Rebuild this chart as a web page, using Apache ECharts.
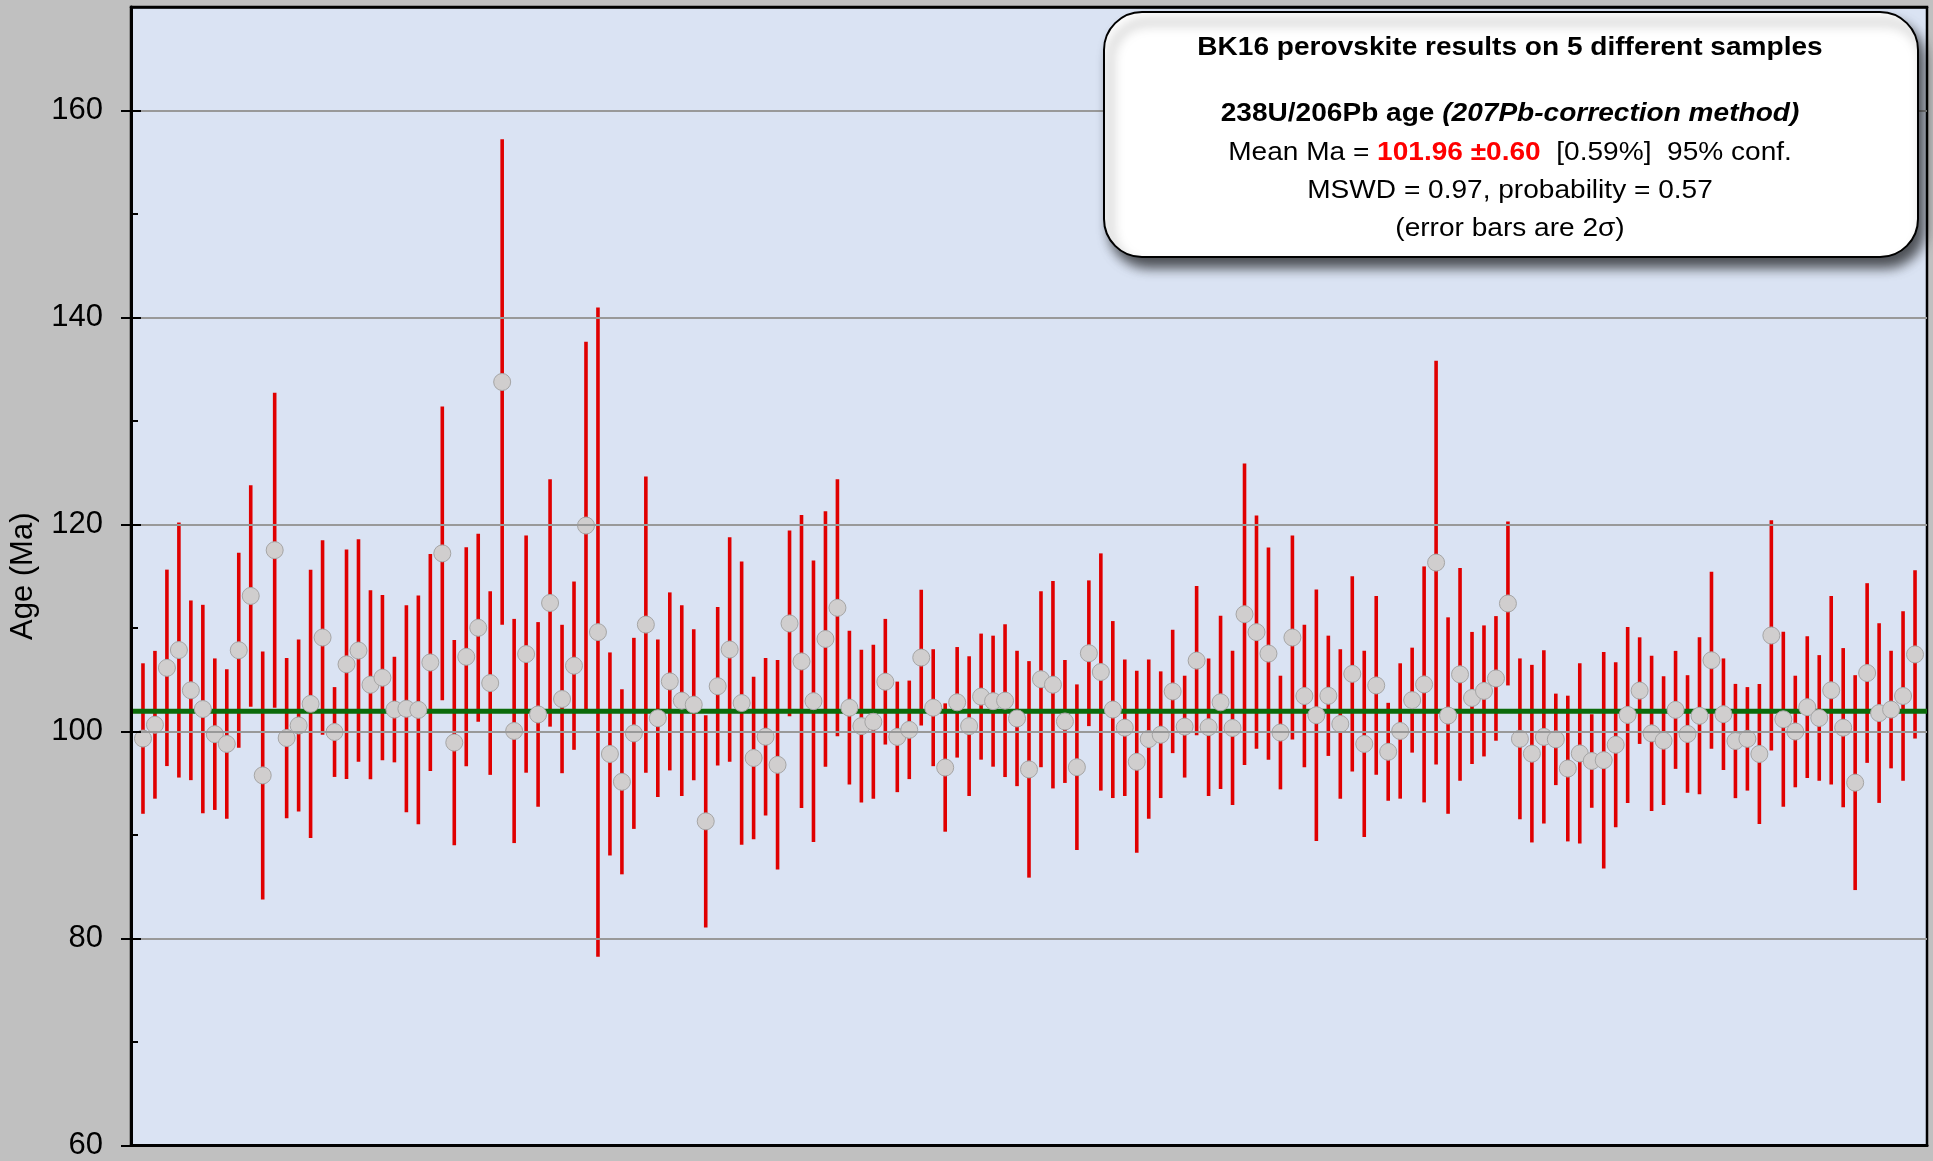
<!DOCTYPE html>
<html>
<head>
<meta charset="utf-8">
<script src="https://cdn.jsdelivr.net/npm/echarts@6/dist/echarts.min.js"></script>
<style>
html,body{margin:0;padding:0;background:#c0c0c0;}
#chart{width:1933px;height:1161px;}
</style>
</head>
<body>
<div id="chart"></div>
<script>
// ---- data ----
const ages = [
 99.32,100.65,106.15,107.87,103.98,102.17,99.74,98.80,107.85,113.10,
 95.76,117.52,99.37,100.58,102.67,109.08,99.95,106.49,107.82,104.52,
 105.20,102.12,102.20,102.09,106.67,117.21,98.93,107.22,110.02,104.68,
 133.77,100.05,107.48,101.65,112.42,103.14,106.36,119.90,109.60,97.83,
 95.14,99.82,110.33,101.28,104.84,102.98,102.59,91.32,104.37,107.92,
 102.75,97.44,99.50,96.78,110.44,106.77,102.93,108.94,111.95,102.30,
 100.52,100.94,104.81,99.48,100.16,107.14,102.30,96.52,102.82,100.52,
 103.37,102.93,102.98,101.26,96.34,105.05,104.52,100.97,96.55,107.56,
 105.75,102.12,100.37,97.07,99.27,99.69,103.87,100.47,106.85,100.42,
 102.82,100.34,111.33,109.60,107.53,99.90,109.08,103.43,101.57,103.45,
 100.73,105.57,98.80,104.45,98.04,100.05,103.03,104.55,116.32,101.54,
 105.52,103.24,103.92,105.13,112.37,99.29,97.86,99.48,99.24,96.42,
 97.88,97.15,97.23,98.72,101.60,103.95,99.82,99.11,102.09,99.76,
 101.52,106.88,101.67,99.08,99.29,97.83,109.28,101.18,100.00,102.35,
 101.31,103.98,100.37,95.06,105.65,101.78,102.12,103.43,107.45
];
const errors2s = [
 7.27,7.14,9.49,12.32,8.68,10.07,7.32,7.22,9.42,10.70,
 11.98,15.22,7.74,8.32,12.97,9.39,4.34,11.09,10.75,9.13,
 7.98,5.10,9.99,11.04,10.49,14.18,9.91,10.57,9.08,8.87,
 23.46,10.83,11.46,8.92,11.95,7.17,8.13,17.76,31.36,9.81,
 8.94,9.23,14.31,7.61,8.60,9.21,7.30,10.25,7.66,10.85,
 13.68,7.85,7.61,10.12,8.97,14.15,13.60,12.35,12.42,7.43,
 7.38,7.43,6.07,5.34,4.76,6.56,5.65,6.20,5.34,6.75,
 6.09,6.33,7.38,6.54,10.46,8.50,10.02,5.94,8.00,7.04,
 11.46,8.55,6.59,8.79,7.69,6.12,5.96,4.92,7.22,6.64,
 8.37,7.45,14.57,11.27,10.25,5.49,9.86,6.88,12.14,5.81,
 7.22,9.44,9.00,8.63,4.73,6.54,5.07,11.40,19.51,9.49,
 10.28,6.38,6.33,6.02,7.92,7.77,8.58,8.37,4.42,7.04,
 8.71,4.52,10.46,7.98,8.50,5.15,7.51,6.22,5.70,5.68,
 7.58,8.55,5.39,5.52,5.00,6.77,11.12,8.45,5.39,6.85,
 6.07,9.10,7.69,10.38,8.68,8.68,5.68,8.19,8.13
];
const meanAge = 101.96;
const yMin = 60, yMax = 170, yStep = 20;
const gridValues = [80, 100, 120, 140, 160];
const titleLines = {
  l1: 'BK16 perovskite results on 5 different samples',
  l3a: '238U/206Pb age ',
  l3b: '(207Pb-correction method)',
  l4a: 'Mean Ma = ',
  l4b: '101.96 ±0.60',
  l4c: '  [0.59%]  95% conf.',
  l5: 'MSWD = 0.97, probability = 0.57',
  l6: '(error bars are 2σ)'
};

// ---- chart ----
const FONT = '"Liberation Sans", Arial, Helvetica, sans-serif';
const points = ages.map((a, i) => [i + 1, a]);
const bars = ages.map((a, i) => [i + 1, a, errors2s[i]]);

const chart = echarts.init(document.getElementById('chart'), null, {renderer: 'canvas'});
const TX = 1510, FS = 25, SX = 1.22 * 23 / 25;
const txt = (y, text, rich) => ({
  type: 'text', x: TX, y: y, scaleX: SX, z: 101,
  style: {text: text, rich: rich, align: 'center', verticalAlign: 'middle',
          textAlign: 'center', textVerticalAlign: 'middle',
          fontFamily: FONT, fontSize: FS, fill: '#000'}
});
const R = {
  n: {fontFamily: FONT, fontSize: FS, fill: '#000'},
  b: {fontFamily: FONT, fontSize: FS, fontWeight: 'bold', fill: '#000'},
  bi: {fontFamily: FONT, fontSize: FS, fontWeight: 'bold', fontStyle: 'italic', fill: '#000'},
  r: {fontFamily: FONT, fontSize: FS, fontWeight: 'bold', fill: '#ff0000'}
};

chart.setOption({
  animation: false,
  backgroundColor: '#c0c0c0',
  grid: {left: 130, right: 6, top: 7, bottom: 14, show: true,
         backgroundColor: '#dae3f3', borderColor: '#000', borderWidth: 2.5},
  xAxis: [
    {type: 'value', min: 0, max: 150, position: 'bottom', z: 10,
     axisLine: {show: true, onZero: false, lineStyle: {color: '#000', width: 3}},
     axisTick: {show: false}, axisLabel: {show: false}, splitLine: {show: false}},
    {type: 'value', min: 0, max: 150, position: 'top', z: 10,
     axisLine: {show: true, onZero: false, lineStyle: {color: '#000', width: 2.5}},
     axisTick: {show: false}, axisLabel: {show: false}, splitLine: {show: false}}
  ],
  yAxis: [
    {type: 'value', min: yMin, max: yMax, interval: yStep, position: 'left', z: 11,
     axisLine: {show: true, lineStyle: {color: '#000', width: 3}},
     axisTick: {show: true, inside: false, length: 10, lineStyle: {color: '#000', width: 2}},
     axisLabel: {show: true, showMaxLabel: false, margin: 28, fontSize: 31,
                 fontFamily: FONT, color: '#000'},
     splitLine: {show: false},
     name: 'Age (Ma)', nameLocation: 'middle', nameGap: 92,
     nameTextStyle: {fontSize: 31, fontFamily: FONT, color: '#000'}},
    {type: 'value', min: yMin, max: yMax, interval: 10, position: 'left', z: 11,
     axisLine: {show: false}, axisLabel: {show: false}, splitLine: {show: false},
     axisTick: {show: true, inside: true, length: 7, lineStyle: {color: '#000', width: 2}}},
    {type: 'value', min: yMin, max: yMax, interval: yStep, position: 'left', z: 11,
     axisLine: {show: false}, axisLabel: {show: false}, splitLine: {show: false},
     axisTick: {show: true, inside: true, length: 10, lineStyle: {color: '#000', width: 2}}}
  ],
  series: [
    {
      type: 'line', name: 'grid', z: 0, silent: true, data: [],
      markLine: {silent: true, symbol: 'none', label: {show: false},
                 lineStyle: {color: '#999999', width: 2, type: 'solid'},
                 data: gridValues.map(v => ({yAxis: v}))}
    },
    {
      type: 'custom', name: 'errors', z: 2, silent: true,
      data: bars,
      renderItem: function (params, api) {
        const x = api.value(0), y = api.value(1), e = api.value(2);
        const top = api.coord([x, y + e]);
        const bot = api.coord([x, y - e]);
        return {type: 'line',
                shape: {x1: top[0], y1: top[1], x2: bot[0], y2: bot[1]},
                style: {stroke: '#e00000', lineWidth: 3.6}};
      }
    },
    {
      type: 'line', name: 'mean', z: 3, silent: true, symbol: 'none',
      data: [[0, meanAge], [150, meanAge]],
      lineStyle: {color: '#0b6b0b', width: 5}
    },
    {
      type: 'scatter', name: 'ages', z: 4, silent: true,
      data: points, symbol: 'circle', symbolSize: 17,
      itemStyle: {color: '#d0cece', borderColor: '#a5a5a5', borderWidth: 1, opacity: 1}
    }
  ],
  graphic: [
    {type: 'rect', z: 100,
     shape: {x: 1104, y: 12, width: 814, height: 245, r: 38},
     style: {fill: '#ffffff', stroke: '#000', lineWidth: 2,
             shadowBlur: 12, shadowOffsetX: 6, shadowOffsetY: 10,
             shadowColor: 'rgba(0,0,0,0.65)'}},
    txt(48, '{b|' + titleLines.l1 + '}', R),
    txt(114, '{b|' + titleLines.l3a + '}{bi|' + titleLines.l3b + '}', R),
    txt(153, '{n|' + titleLines.l4a + '}{r|' + titleLines.l4b + '}{n|' + titleLines.l4c + '}', R),
    txt(191, '{n|' + titleLines.l5 + '}', R),
    txt(229, '{n|' + titleLines.l6 + '}', R)
  ]
});
</script>
</body>
</html>
